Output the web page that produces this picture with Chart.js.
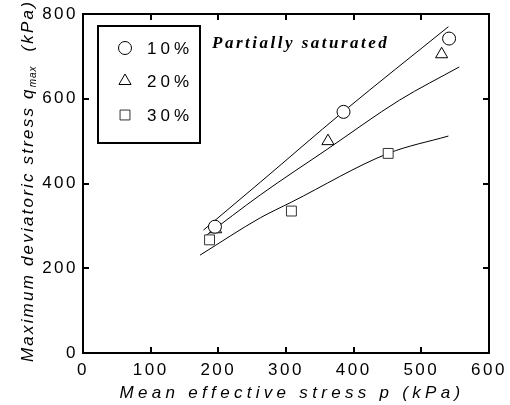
<!DOCTYPE html>
<html>
<head>
<meta charset="utf-8">
<script src="https://cdn.jsdelivr.net/npm/chart.js@4.4.1/dist/chart.umd.min.js"></script>
<style>
html, body { margin: 0; padding: 0; background: #fff; }
canvas { display: block; }
</style>
</head>
<body>
<canvas id="chart" width="510" height="405"></canvas>
<script>
// test results, mean effective stress p vs qmax (kPa)
const seriesLabels = ['10%', '20%', '30%'];
const pointStyles = ['circle', 'triangle', 'rect'];
const p10 = [195, 385, 541];
const q10 = [298, 569, 742];
const p20 = [196, 362, 530];
const q20 = [292, 500, 705];
const p30 = [187, 308, 451];
const q30 = [267, 335, 471];

// fitted curves
const fitP10 = [178, 262, 385, 540];
const fitQ10 = [290, 403, 570, 770];
const fitP20 = [180, 262, 362, 468, 556];
const fitQ20 = [275, 373, 482, 597, 675];
const fitP30 = [173, 262, 308, 451, 540];
const fitQ30 = [231, 319, 356, 471, 512];

const xTickValues = [0, 100, 200, 300, 400, 500, 600];
const yTickValues = [0, 200, 400, 600, 800];

const FONT = 'Liberation Sans, Arial, sans-serif';

function toPoints(xs, ys) {
    return xs.map((x, i) => ({x: x, y: ys[i]}));
}

function markerSet(label, xs, ys, style, radius, color) {
    return {
        label: label,
        data: toPoints(xs, ys),
        pointStyle: style,
        pointRadius: radius,
        pointHoverRadius: radius,
        pointBorderWidth: 1,
        pointBorderColor: color,
        pointBackgroundColor: '#fff',
        showLine: false,
        order: 0
    };
}

function fitSet(xs, ys) {
    return {
        data: toPoints(xs, ys),
        showLine: true,
        borderColor: '#000',
        borderWidth: 1,
        pointRadius: 0,
        cubicInterpolationMode: 'monotone',
        order: 1
    };
}

function setTicks(values) {
    return scale => { scale.ticks = values.map(v => ({value: v})); };
}

// fixed box size, and no extra room for overhanging labels
function fixSize(prop, size) {
    return scale => {
        scale[prop] = size;
        scale.paddingLeft = scale.paddingRight = 0;
        scale.paddingTop = scale.paddingBottom = 0;
    };
}

const innerGrid = {
    drawOnChartArea: false,
    drawTicks: true,
    tickLength: -6,
    color: '#000',
    lineWidth: 2
};

const frameBorder = {display: true, color: '#000', width: 2};

const overlay = {
    id: 'overlay',
    beforeDraw(chart) {
        chart.ctx.letterSpacing = '2.5px';
    },
    afterDraw(chart) {
        const ctx = chart.ctx;
        ctx.save();

        // legend box
        ctx.letterSpacing = '4px';
        ctx.strokeStyle = '#000';
        ctx.lineWidth = 2;
        ctx.strokeRect(98, 26, 102, 117);
        const legendRows = [48, 81, 115];
        const legendRadius = [6.5, 7, 7];
        seriesLabels.forEach((label, i) => {
            ctx.lineWidth = 1;
            ctx.fillStyle = '#fff';
            ctx.strokeStyle = i === 2 ? '#333' : '#000';
            Chart.helpers.drawPoint(ctx, {pointStyle: pointStyles[i], radius: legendRadius[i], rotation: 0, borderWidth: 1}, 125, legendRows[i]);
            ctx.fillStyle = '#000';
            ctx.font = '17px ' + FONT;
            ctx.textAlign = 'left';
            ctx.textBaseline = 'middle';
            ctx.fillText(label, 147, legendRows[i] + 1);
        });

        // annotation
        ctx.letterSpacing = '2.5px';
        ctx.font = 'italic bold 17px "Liberation Serif", "Times New Roman", serif';
        ctx.textAlign = 'left';
        ctx.textBaseline = 'alphabetic';
        ctx.fillText('Partially saturated', 212, 48);

        // x axis title
        ctx.letterSpacing = '4.3px';
        ctx.font = 'italic 17px ' + FONT;
        ctx.textAlign = 'center';
        ctx.fillText('Mean effective stress p (kPa)', 292, 398);

        // y axis title with subscript
        const mainText = 'Maximum deviatoric stress q';
        const subText = 'max';
        const unitText = '  (kPa)';
        ctx.textAlign = 'left';
        ctx.letterSpacing = '2.2px';
        ctx.font = 'italic 17px ' + FONT;
        const w1 = ctx.measureText(mainText).width;
        const w3 = ctx.measureText(unitText).width;
        ctx.letterSpacing = '1px';
        ctx.font = 'italic 10px ' + FONT;
        const w2 = ctx.measureText(subText).width;
        const total = w1 + w2 + w3;
        ctx.translate(33, 181);
        ctx.rotate(-Math.PI / 2);
        let x = -total / 2;
        ctx.letterSpacing = '2.2px';
        ctx.font = 'italic 17px ' + FONT;
        ctx.fillText(mainText, x, 0);
        x += w1;
        ctx.letterSpacing = '1px';
        ctx.font = 'italic 10px ' + FONT;
        ctx.fillText(subText, x, 3);
        x += w2;
        ctx.letterSpacing = '2.2px';
        ctx.font = 'italic 17px ' + FONT;
        ctx.fillText(unitText, x, 0);

        ctx.restore();
    }
};

new Chart(document.getElementById('chart'), {
    type: 'scatter',
    data: {
        datasets: [
            markerSet(seriesLabels[0], p10, q10, pointStyles[0], 6.5, '#000'),
            markerSet(seriesLabels[1], p20, q20, pointStyles[1], 7, '#000'),
            markerSet(seriesLabels[2], p30, q30, pointStyles[2], 7, '#333'),
            fitSet(fitP10, fitQ10),
            fitSet(fitP20, fitQ20),
            fitSet(fitP30, fitQ30)
        ]
    },
    options: {
        responsive: false,
        animation: false,
        devicePixelRatio: 1,
        layout: {padding: 0},
        plugins: {
            legend: {display: false},
            tooltip: {enabled: false}
        },
        scales: {
            x: {
                type: 'linear',
                position: 'bottom',
                min: 0,
                max: 600,
                afterBuildTicks: setTicks(xTickValues),
                afterFit: fixSize('height', 52),
                grid: innerGrid,
                border: frameBorder,
                ticks: {color: '#000', padding: 13, maxRotation: 0, font: {family: FONT, size: 17}}
            },
            x2: {
                type: 'linear',
                position: 'top',
                min: 0,
                max: 600,
                afterBuildTicks: setTicks(xTickValues),
                afterFit: fixSize('height', 14),
                grid: innerGrid,
                border: frameBorder,
                ticks: {display: false}
            },
            y: {
                type: 'linear',
                position: 'left',
                min: 0,
                max: 800,
                afterBuildTicks: setTicks(yTickValues),
                afterFit: fixSize('width', 83),
                grid: innerGrid,
                border: frameBorder,
                ticks: {color: '#000', padding: 11, font: {family: FONT, size: 17}}
            },
            y2: {
                type: 'linear',
                position: 'right',
                min: 0,
                max: 800,
                afterBuildTicks: setTicks(yTickValues),
                afterFit: fixSize('width', 21),
                grid: innerGrid,
                border: frameBorder,
                ticks: {display: false}
            }
        }
    },
    plugins: [overlay]
});
</script>
</body>
</html>
